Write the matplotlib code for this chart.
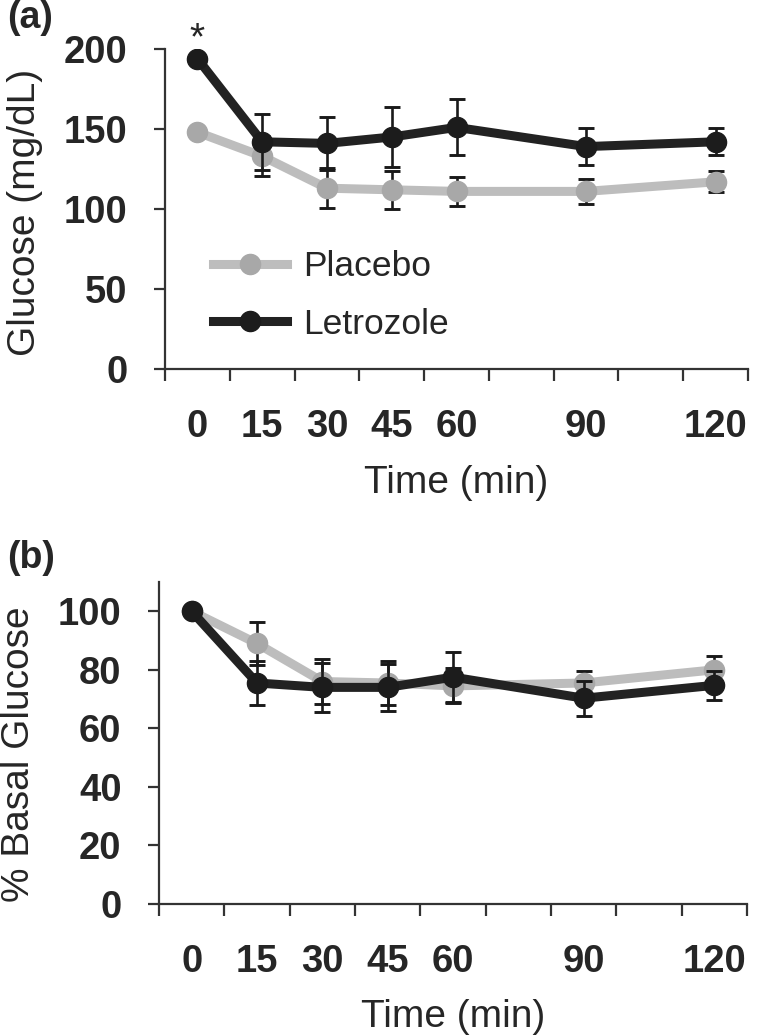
import matplotlib
matplotlib.use("Agg")
import matplotlib.pyplot as plt
import numpy as np

plt.rcParams['font.family'] = ['Liberation Sans', 'DejaVu Sans']

# ---- data ----
times = [0, 15, 30, 45, 60, 90, 120]
time_labels = ['0', '15', '30', '45', '60', '90', '120']
bin_edges = [-7.5, 7.5, 22.5, 37.5, 52.5, 67.5, 82.5, 97.5, 112.5, 127.5]

placebo_glucose = [148, 133, 113, 112, 111, 111, 117]
placebo_glucose_err = [2, 12.5, 12.5, 12, 9, 8, 6.5]
letrozole_glucose = [194, 142, 141, 145, 151, 139, 142]
letrozole_glucose_err = [2, 17.5, 16.5, 19, 17.5, 11.5, 8.5]

placebo_basal = [100, 89, 76, 75.5, 74.5, 75.5, 80]
placebo_basal_err = [0.5, 7.5, 7.7, 7.5, 6, 4, 4.7]
letrozole_basal = [100, 75.5, 74, 74, 77.5, 70.3, 74.7]
letrozole_basal_err = [0.5, 7.5, 8.3, 8, 8.5, 6, 5]

# ---- style ----
W, H = 773, 1036
DPI = 100
TXT = '#262626'
SPC = '#333333'
GRAY_LINE = '#bdbdbd'
GRAY_MK = '#a8a8a8'
BLACK_LINE = '#222222'
BLACK_MK = '#1c1c1c'
LW = 6.5
MS = 14.5

fig = plt.figure(figsize=(W / DPI, H / DPI), dpi=DPI)
fig.patch.set_facecolor('white')


def px_axes(left, right, top, bottom):
    return fig.add_axes([left / W, 1 - bottom / H, (right - left) / W, (bottom - top) / H])


def draw_panel(ax, pl, ple, le, lee, ylim, yticks):
    ax.errorbar(times, pl, yerr=ple, fmt='none', ecolor='#1a1a1a', elinewidth=1.9,
                capsize=5.5, capthick=2.1, zorder=1.4)
    ax.plot(times, pl, color=GRAY_LINE, lw=LW, marker='o', ms=MS, mfc=GRAY_MK,
            mec=GRAY_MK, zorder=1.5, label='Placebo', solid_joinstyle='round')
    ax.errorbar(times, le, yerr=lee, fmt='none', ecolor='#1a1a1a', elinewidth=1.9,
                capsize=5.5, capthick=2.1, zorder=3)
    ax.plot(times, le, color=BLACK_LINE, lw=LW, marker='o', ms=MS, mfc=BLACK_MK,
            mec=BLACK_MK, zorder=4, label='Letrozole', solid_joinstyle='round')

    ax.set_xlim(bin_edges[0], bin_edges[-1])
    ax.set_ylim(*ylim)
    ax.set_yticks(yticks)
    ax.set_yticklabels([str(v) for v in yticks], fontweight='bold', fontsize=27.5, color=TXT)
    ax.set_xticks(bin_edges)
    ax.set_xticklabels([])
    ax.set_xticks(times, minor=True)
    ax.set_xticklabels(time_labels, minor=True, fontweight='bold', fontsize=27.5, color=TXT)
    ax.tick_params(axis='x', which='major', direction='out', length=8.5, width=1.6, color=SPC)
    ax.tick_params(axis='x', which='minor', length=0, pad=28.5)
    ax.tick_params(axis='y', which='major', direction='out', length=8, width=1.6, color=SPC,
                   pad=19)
    for s in ['top', 'right']:
        ax.spines[s].set_visible(False)
    for s in ['left', 'bottom']:
        ax.spines[s].set_color(SPC)
        ax.spines[s].set_linewidth(1.6)
    ax.set_facecolor('none')


# ---- panel (a) ----
ax1 = px_axes(165, 748, 49, 369)
draw_panel(ax1, placebo_glucose, placebo_glucose_err, letrozole_glucose,
           letrozole_glucose_err, (0, 200), [0, 50, 100, 150, 200])
ax1.set_xlabel('Time (min)', fontsize=28, color=TXT, va='top')
ax1.xaxis.set_label_coords(0.5, -0.30)
ax1.set_ylabel('Glucose (mg/dL)', fontsize=28, color=TXT)
ax1.yaxis.set_label_coords(-0.209, 0.49)
ax1.annotate('*', xy=(times[0], letrozole_glucose[0]), xytext=(0, 7),
             textcoords='offset points', ha='center', va='baseline', fontsize=28,
             color=TXT, annotation_clip=False)
leg = ax1.legend(loc='upper left', bbox_to_anchor=(0.082, 0.372), frameon=False,
                 fontsize=25.5, handlelength=2.1, handletextpad=0.45, labelspacing=0.7,
                 borderpad=0, borderaxespad=0)
for t in leg.get_texts():
    t.set_color(TXT)

# ---- panel (b) ----
ax2 = px_axes(159, 747, 582, 904)
draw_panel(ax2, placebo_basal, placebo_basal_err, letrozole_basal,
           letrozole_basal_err, (0, 110), [0, 20, 40, 60, 80, 100])
ax2.set_xlabel('Time (min)', fontsize=28, color=TXT, va='top')
ax2.xaxis.set_label_coords(0.5, -0.295)
ax2.set_ylabel('% Basal Glucose', fontsize=28, color=TXT)
ax2.yaxis.set_label_coords(-0.2075, 0.466)

fig.text(7 / W, 1 - 0 / H, '(a)', fontsize=27, fontweight='bold', color=TXT, va='top', ha='left')
fig.text(7 / W, 1 - 540 / H, '(b)', fontsize=27, fontweight='bold', color=TXT, va='top', ha='left')

fig.savefig('out.png', dpi=DPI, facecolor='white')
